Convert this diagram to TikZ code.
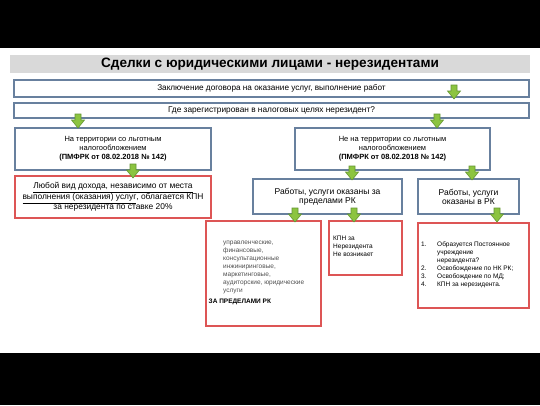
\documentclass[tikz,border=0pt]{standalone}
\usepackage{fontspec}
\setmainfont{Liberation Sans}
\definecolor{bluebd}{RGB}{104,128,158}
\definecolor{redbd}{RGB}{221,85,85}
\definecolor{gfill}{RGB}{140,196,64}
\definecolor{gline}{RGB}{100,150,50}
\definecolor{titlegray}{RGB}{217,217,217}
\definecolor{txtgray}{RGB}{80,80,80}
\begin{document}
\begin{tikzpicture}[x=1pt,y=-1pt,
  bbox/.style={draw=bluebd, line width=1.1pt, fill=white, inner sep=0pt, align=center},
  rbox/.style={draw=redbd, line width=1.1pt, fill=white, inner sep=0pt, align=center},
  ltext/.style={inner sep=0pt, align=left, anchor=north west},
  garrow/.pic={\draw[fill=gfill, draw=gline, line width=0.6pt, line join=miter]
     (-3,0) -- (3,0) -- (3,6) -- (6.5,6) -- (0,14) -- (-6.5,6) -- (-3,6) -- cycle;}
]
\useasboundingbox (0,0) rectangle (540,405);
\fill[white] (0,0) rectangle (540,405);
\fill[black] (0,0) rectangle (540,48);
\fill[black] (0,353) rectangle (540,405);

\node[fill=titlegray, minimum width=520pt, minimum height=18pt, inner sep=0pt,
      font=\fontsize{13.6}{15}\selectfont\bfseries] (title) at (270,64)
      {Сделки с юридическими лицами - нерезидентами};

\node[bbox, minimum width=515pt, minimum height=17pt, font=\fontsize{8.2}{9}\selectfont] (b1) at (271.5,88.5)
  {Заключение договора на оказание услуг, выполнение работ};
\node[bbox, minimum width=515pt, minimum height=15pt, font=\fontsize{8.3}{9}\selectfont] (b2) at (271.5,110.5)
  {Где зарегистрирован в налоговых целях нерезидент?};

\node[bbox, minimum width=196pt, minimum height=42pt, font=\fontsize{7.5}{9}\selectfont] (l1) at (113,149)
  {На территории со льготным\\налогообложением\\\textbf{(ПМФРК от 08.02.2018 № 142)}};
\node[rbox, minimum width=196pt, minimum height=42pt, font=\fontsize{8.4}{9.8}\selectfont] (l2) at (113,197)
  {\underline{Любой вид дохода, независимо от места}\\\underline{выполнения (оказания) услуг}, облагается КПН\\за нерезидента по ставке 20\%};

\node[bbox, minimum width=195pt, minimum height=42pt, font=\fontsize{7.5}{9}\selectfont] (r1) at (392.5,149)
  {Не на территории со льготным\\налогообложением\\\textbf{(ПМФРК от 08.02.2018 № 142)}};

\node[bbox, minimum width=149pt, minimum height=35pt, font=\fontsize{8.5}{9}\selectfont] (r2a) at (327.5,196.5)
  {Работы, услуги оказаны за\\пределами РК};
\node[bbox, minimum width=101pt, minimum height=35pt, font=\fontsize{8.5}{9}\selectfont] (r2b) at (468.5,196.5)
  {Работы, услуги\\оказаны в РК};

\node[rbox, minimum width=115pt, minimum height=105pt] (a) at (263.5,273.5) {};
\node[ltext, text=txtgray, font=\fontsize{6.5}{8}\selectfont] (atext) at (223,240.5)
  {управленческие,\\финансовые,\\консультационные\\инжиниринговые,\\маркетинговые,\\аудиторские, юридические\\услуги};
\node[inner sep=0pt, anchor=west, font=\fontsize{6.5}{8}\selectfont\bfseries] (atitle) at (208.5,302)
  {ЗА ПРЕДЕЛАМИ РК};

\node[rbox, minimum width=73pt, minimum height=54pt] (bx) at (365.5,248) {};
\node[ltext, font=\fontsize{6.5}{8}\selectfont] (btext) at (333,235.5)
  {КПН за\\Нерезидента\\Не возникает};

\node[rbox, minimum width=111pt, minimum height=85pt] (c) at (473.5,265.5) {};
\node[ltext, font=\fontsize{6.5}{8}\selectfont] (ctext) at (421,241.5)
  {\makebox[16pt][l]{1.}Образуется Постоянное\\\hspace*{16pt}учреждение\\\hspace*{16pt}нерезидента?\\\makebox[16pt][l]{2.}Освобождение по НК РК;\\\makebox[16pt][l]{3.}Освобождение по МД;\\\makebox[16pt][l]{4.}КПН за нерезидента.};

\pic at (454,85) {garrow};
\pic at (78,114) {garrow};
\pic at (437,114) {garrow};
\pic at (133,164) {garrow};
\pic at (352,166) {garrow};
\pic at (472,166) {garrow};
\pic at (295,208) {garrow};
\pic at (354,208) {garrow};
\pic at (497,208) {garrow};
\end{tikzpicture}
\end{document}
